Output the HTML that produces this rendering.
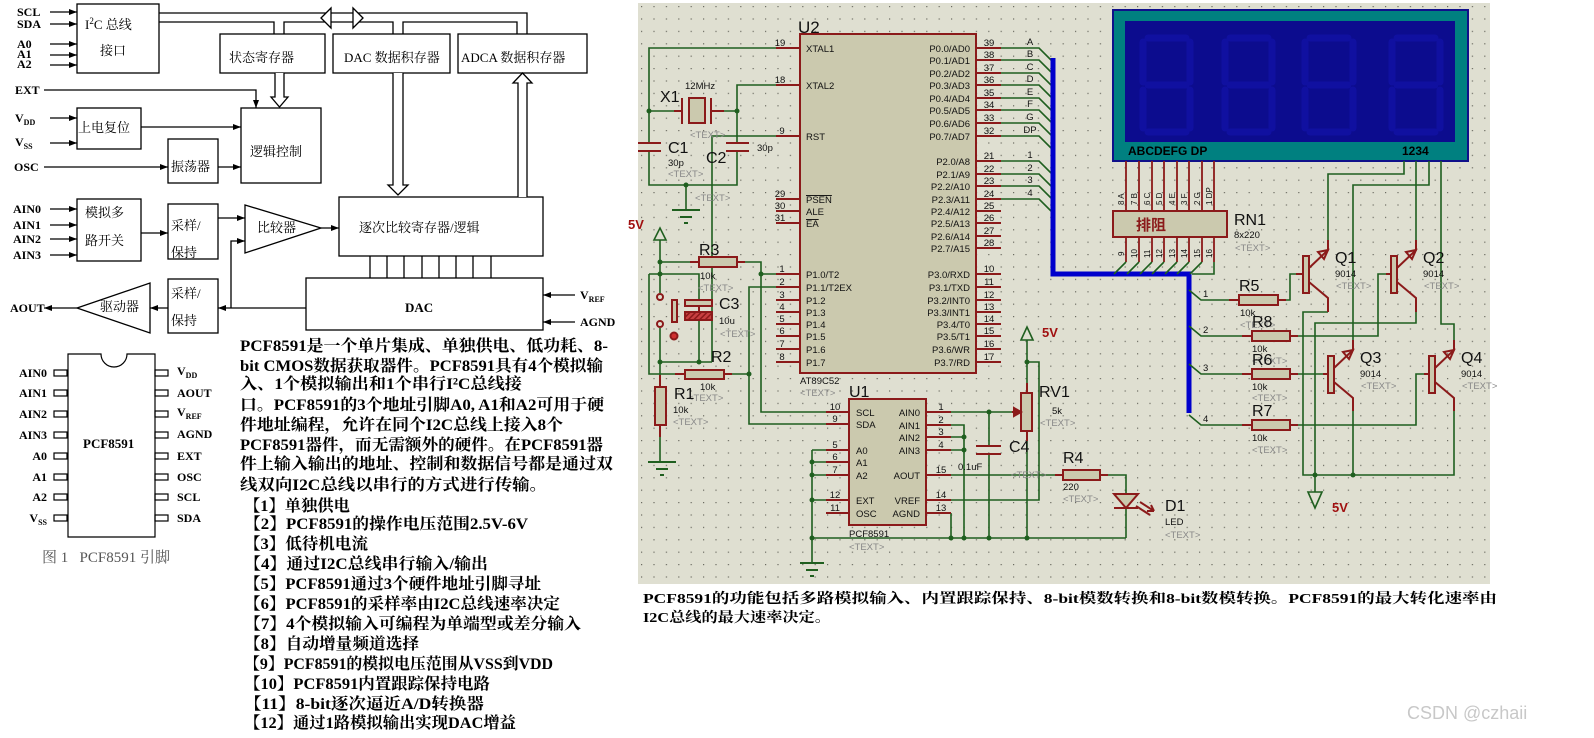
<!DOCTYPE html>
<html><head><meta charset="utf-8"><style>
html,body{margin:0;padding:0;background:#fff;}
svg{display:block;}
.sf{font-family:"Liberation Serif","Noto Serif CJK SC",serif;}
.bd{font-family:"Liberation Serif","Noto Serif CJK SC",serif;font-weight:bold;}
.ss{font-family:"Liberation Sans","Noto Sans CJK SC",sans-serif;}
</style></head><body>
<svg width="1594" height="738" viewBox="0 0 1594 738" xmlns="http://www.w3.org/2000/svg">
<defs>
<marker id="ah" markerWidth="8" markerHeight="6" refX="8" refY="3" orient="auto" markerUnits="userSpaceOnUse"><path d="M0,0 L8,3 L0,6 z" fill="#000"/></marker>
<pattern id="grid" x="641" y="6" width="12.4" height="12.4" patternUnits="userSpaceOnUse"><rect width="1.2" height="1.2" fill="#6a6a60"/></pattern>
<pattern id="hatch" width="4" height="4" patternUnits="userSpaceOnUse" patternTransform="rotate(45)"><rect width="4" height="4" fill="#c84040"/><rect width="1.5" height="4" fill="#8b1a1a"/></pattern>
</defs>

<!-- ================= LEFT BLOCK DIAGRAM ================= -->
<g stroke="#000" stroke-width="1.3" fill="none">
<rect x="77" y="4" width="82" height="69"/>
<rect x="220" y="34" width="105" height="39"/>
<rect x="333" y="34" width="117" height="39"/>
<rect x="458" y="34" width="129" height="39"/>
<rect x="241" y="108" width="80" height="75"/>
<rect x="77" y="108" width="64" height="41"/>
<rect x="168" y="139" width="50" height="44"/>
<rect x="77" y="199" width="64" height="62"/>
<rect x="168" y="204" width="50" height="55"/>
<rect x="339" y="197" width="204" height="59"/>
<rect x="306" y="278" width="237" height="52"/>
<rect x="168" y="279" width="50" height="54"/>
<polygon points="245,205 245,253 321,228"/>
<polygon points="150,283 150,333 77,308"/>
<polyline points="159,13 527,13 527,34"/>
<polyline points="159,22 274,22 274,34"/>
<polyline points="284,34 284,22 393,22 393,34"/>
<polyline points="403,34 403,22 517,22 517,34"/>
<polygon points="321,18 331,8 331,28" fill="#fff"/>
<polygon points="363,18 353,8 353,28" fill="#fff"/>
<polyline points="275,73 275,97 271,97 279.5,107 288,97 284,97 284,73" fill="#fff"/>
<polyline points="393,73 393,185 388,185 398,195 408,185 403,185 403,73" fill="#fff"/>
<polyline points="518,197 518,83 513,83 522.5,73 532,83 527,83 527,197" fill="#fff"/>
<path d="M370,256V278M387,256V278M404,256V278M422,256V278M439,256V278M456,256V278M473,256V278M491,256V278"/>
<g marker-end="url(#ah)">
<path d="M50,12H77"/><path d="M50,24H77"/><path d="M50,44H77"/><path d="M50,55H77"/><path d="M50,65H77"/>
<path d="M44,90H256V108"/>
<path d="M50,118H77"/><path d="M50,143H77"/>
<path d="M141,127H241"/>
<path d="M44,167H168"/><path d="M218,167H241"/>
<path d="M50,209H77"/><path d="M50,225H77"/><path d="M50,239H77"/><path d="M50,255H77"/>
<path d="M141,233H168"/>
<path d="M218,218H245"/>
<path d="M321,228H339"/>
<path d="M306,308H218"/>
<path d="M231,308V241H245"/>
<path d="M168,308H150"/>
<path d="M77,308H44"/>
<path d="M575,295H543"/><path d="M575,322H543"/>
</g>
</g>
<g class="bd" font-size="12" fill="#000">
<text x="17" y="16">SCL</text><text x="17" y="28">SDA</text>
<text x="17" y="48">A0</text><text x="17" y="58">A1</text><text x="17" y="68">A2</text>
<text x="15" y="94">EXT</text>
<text x="15" y="122">V<tspan font-size="8" dy="3">DD</tspan></text>
<text x="15" y="146">V<tspan font-size="8" dy="3">SS</tspan></text>
<text x="14" y="171">OSC</text>
<text x="13" y="213">AIN0</text><text x="13" y="229">AIN1</text><text x="13" y="243">AIN2</text><text x="13" y="259">AIN3</text>
<text x="10" y="312">AOUT</text>
<text x="580" y="299">V<tspan font-size="8" dy="3">REF</tspan></text>
<text x="580" y="326">AGND</text>
<text x="405" y="312" font-size="13">DAC</text>
</g>
<g class="sf" font-size="13" fill="#000">
<text x="85" y="29">I<tspan font-size="9" dy="-5">2</tspan><tspan dy="5">C 总线</tspan></text>
<text x="100" y="55">接口</text>
<text x="229" y="62">状态寄存器</text>
<text x="344" y="62">DAC 数据积存器</text>
<text x="461" y="62">ADCA 数据积存器</text>
<text x="250" y="156">逻辑控制</text>
<text x="78" y="132">上电复位</text>
<text x="171" y="171">振荡器</text>
<text x="85" y="217">模拟多</text><text x="85" y="245">路开关</text>
<text x="171" y="230">采样/</text><text x="171" y="257">保持</text>
<text x="257" y="232">比较器</text>
<text x="359" y="232">逐次比较寄存器/逻辑</text>
<text x="171" y="298">采样/</text><text x="171" y="325">保持</text>
<text x="100" y="311">驱动器</text>
</g>

<!-- ================= PIN DIAGRAM ================= -->
<g stroke="#000" stroke-width="1.2" fill="#fff">
<path d="M68,354H101A13,13 0 0 0 127,354H155V537H68Z"/>
<g fill="none">
<rect x="54" y="370" width="13" height="6"/><rect x="54" y="390" width="13" height="6"/><rect x="54" y="411" width="13" height="6"/><rect x="54" y="432" width="13" height="6"/>
<rect x="54" y="453" width="13" height="6"/><rect x="54" y="474" width="13" height="6"/><rect x="54" y="494" width="13" height="6"/><rect x="54" y="515" width="13" height="6"/>
<rect x="155" y="370" width="13" height="6"/><rect x="155" y="390" width="13" height="6"/><rect x="155" y="411" width="13" height="6"/><rect x="155" y="432" width="13" height="6"/>
<rect x="155" y="453" width="13" height="6"/><rect x="155" y="474" width="13" height="6"/><rect x="155" y="494" width="13" height="6"/><rect x="155" y="515" width="13" height="6"/>
</g></g>
<g class="bd" font-size="12" fill="#000">
<g text-anchor="end">
<text x="47" y="377">AIN0</text><text x="47" y="397">AIN1</text><text x="47" y="418">AIN2</text><text x="47" y="439">AIN3</text>
<text x="47" y="460">A0</text><text x="47" y="481">A1</text><text x="47" y="501">A2</text><text x="47" y="522">V<tspan font-size="8" dy="3">SS</tspan></text>
</g>
<text x="177" y="375">V<tspan font-size="8" dy="3">DD</tspan></text><text x="177" y="397">AOUT</text><text x="177" y="416">V<tspan font-size="8" dy="3">REF</tspan></text>
<text x="177" y="438">AGND</text><text x="177" y="460">EXT</text><text x="177" y="481">OSC</text><text x="177" y="501">SCL</text><text x="177" y="522">SDA</text>
<text x="83" y="448" font-size="13">PCF8591</text>
</g>
<text class="sf" x="42" y="562" font-size="15" fill="#555">图 1&#160;&#160; PCF8591 引脚</text>

<!-- ================= PARAGRAPH ================= -->
<g class="bd" font-size="16" fill="#000">
<text x="240" y="351" textLength="368" lengthAdjust="spacingAndGlyphs">PCF8591是一个单片集成、单独供电、低功耗、8-</text>
<text x="240" y="371" textLength="363" lengthAdjust="spacingAndGlyphs">bit CMOS数据获取器件。PCF8591具有4个模拟输</text>
<text x="240" y="389" textLength="282" lengthAdjust="spacingAndGlyphs">入、1个模拟输出和1个串行I²C总线接</text>
<text x="240" y="410" textLength="364" lengthAdjust="spacingAndGlyphs">口。PCF8591的3个地址引脚A0, A1和A2可用于硬</text>
<text x="240" y="430" textLength="323" lengthAdjust="spacingAndGlyphs">件地址编程，允许在同个I2C总线上接入8个</text>
<text x="240" y="450" textLength="363" lengthAdjust="spacingAndGlyphs">PCF8591器件，而无需额外的硬件。在PCF8591器</text>
<text x="240" y="469" textLength="373" lengthAdjust="spacingAndGlyphs">件上输入输出的地址、控制和数据信号都是通过双</text>
<text x="240" y="490" textLength="307" lengthAdjust="spacingAndGlyphs">线双向I2C总线以串行的方式进行传输。</text>
<text x="244" y="511" textLength="106" lengthAdjust="spacingAndGlyphs">【1】单独供电</text>
<text x="244" y="529" textLength="284" lengthAdjust="spacingAndGlyphs">【2】PCF8591的操作电压范围2.5V-6V</text>
<text x="244" y="549" textLength="124" lengthAdjust="spacingAndGlyphs">【3】低待机电流</text>
<text x="244" y="569" textLength="244" lengthAdjust="spacingAndGlyphs">【4】通过I2C总线串行输入/输出</text>
<text x="244" y="589" textLength="297" lengthAdjust="spacingAndGlyphs">【5】PCF8591通过3个硬件地址引脚寻址</text>
<text x="244" y="609" textLength="316" lengthAdjust="spacingAndGlyphs">【6】PCF8591的采样率由I2C总线速率决定</text>
<text x="244" y="629" textLength="337" lengthAdjust="spacingAndGlyphs">【7】4个模拟输入可编程为单端型或差分输入</text>
<text x="244" y="649" textLength="175" lengthAdjust="spacingAndGlyphs">【8】自动增量频道选择</text>
<text x="244" y="669" textLength="309" lengthAdjust="spacingAndGlyphs">【9】PCF8591的模拟电压范围从VSS到VDD</text>
<text x="244" y="689" textLength="246" lengthAdjust="spacingAndGlyphs">【10】PCF8591内置跟踪保持电路</text>
<text x="244" y="709" textLength="240" lengthAdjust="spacingAndGlyphs">【11】8-bit逐次逼近A/D转换器</text>
<text x="244" y="728" textLength="272" lengthAdjust="spacingAndGlyphs">【12】通过1路模拟输出实现DAC增益</text>
</g>

<!-- ================= SCHEMATIC ================= -->
<rect x="638" y="3" width="852" height="581" fill="#dfdfd1"/>
<rect x="638" y="3" width="852" height="581" fill="url(#grid)"/>

<rect x="800" y="34" width="176" height="339" fill="#cbc9ae" stroke="#8b1a1a" stroke-width="2"/>
<g stroke="#8b1a1a" stroke-width="2">
<path d="M776,48H800M776,85H800M776,136H800M776,199H800M776,211H800M776,223H800"/>
<path d="M776,274H800M776,287H800M776,300H800M776,312H800M776,324H800M776,336H800M776,349H800M776,362H800"/>
<path d="M976,48H1001M976,60H1001M976,73H1001M976,85H1001M976,98H1001M976,110H1001M976,123H1001M976,136H1001"/>
<path d="M976,161H1001M976,174H1001M976,186H1001M976,199H1001M976,211H1001M976,223H1001M976,236H1001M976,248H1001"/>
<path d="M976,274H1001M976,287H1001M976,300H1001M976,312H1001M976,324H1001M976,336H1001M976,349H1001M976,362H1001"/>
</g>
<g class="ss" font-size="9.5" fill="#111">
<g text-anchor="middle">
<text x="780" y="46">19</text><text x="780" y="83">18</text><text x="782" y="134">9</text><text x="780" y="197">29</text><text x="780" y="209">30</text><text x="780" y="221">31</text>
<text x="782" y="272">1</text><text x="782" y="285">2</text><text x="782" y="298">3</text><text x="782" y="310">4</text><text x="782" y="322">5</text><text x="782" y="334">6</text><text x="782" y="347">7</text><text x="782" y="360">8</text>
<text x="989" y="46">39</text><text x="989" y="58">38</text><text x="989" y="71">37</text><text x="989" y="83">36</text><text x="989" y="96">35</text><text x="989" y="108">34</text><text x="989" y="121">33</text><text x="989" y="134">32</text>
<text x="989" y="159">21</text><text x="989" y="172">22</text><text x="989" y="184">23</text><text x="989" y="197">24</text><text x="989" y="209">25</text><text x="989" y="221">26</text><text x="989" y="234">27</text><text x="989" y="246">28</text>
<text x="989" y="272">10</text><text x="989" y="285">11</text><text x="989" y="298">12</text><text x="989" y="310">13</text><text x="989" y="322">14</text><text x="989" y="334">15</text><text x="989" y="347">16</text><text x="989" y="360">17</text>
</g>
<text x="806" y="52">XTAL1</text><text x="806" y="89">XTAL2</text><text x="806" y="140">RST</text>
<text x="806" y="203" text-decoration="overline">PSEN</text><text x="806" y="215">ALE</text><text x="806" y="227" text-decoration="overline">EA</text>
<text x="806" y="278">P1.0/T2</text><text x="806" y="291">P1.1/T2EX</text><text x="806" y="304">P1.2</text><text x="806" y="316">P1.3</text><text x="806" y="328">P1.4</text><text x="806" y="340">P1.5</text><text x="806" y="353">P1.6</text><text x="806" y="366">P1.7</text>
<g text-anchor="end">
<text x="970" y="52">P0.0/AD0</text><text x="970" y="64">P0.1/AD1</text><text x="970" y="77">P0.2/AD2</text><text x="970" y="89">P0.3/AD3</text><text x="970" y="102">P0.4/AD4</text><text x="970" y="114">P0.5/AD5</text><text x="970" y="127">P0.6/AD6</text><text x="970" y="140">P0.7/AD7</text>
<text x="970" y="165">P2.0/A8</text><text x="970" y="178">P2.1/A9</text><text x="970" y="190">P2.2/A10</text><text x="970" y="203">P2.3/A11</text><text x="970" y="215">P2.4/A12</text><text x="970" y="227">P2.5/A13</text><text x="970" y="240">P2.6/A14</text><text x="970" y="252">P2.7/A15</text>
<text x="970" y="278">P3.0/RXD</text><text x="970" y="291">P3.1/TXD</text><text x="970" y="304">P3.2/INT0</text><text x="970" y="316">P3.3/INT1</text><text x="970" y="328">P3.4/T0</text><text x="970" y="340">P3.5/T1</text><text x="970" y="353">P3.6/WR</text><text x="970" y="366">P3.7/RD</text>
</g>
<text x="800" y="384">AT89C52</text>
<text x="800" y="396" fill="#888">&lt;TEXT&gt;</text>
</g>
<text class="ss" x="798" y="33" font-size="17" fill="#111">U2</text>

<g stroke="#1f5f1f" stroke-width="1.6" fill="none">
<path d="M1001,48H1039L1051,60M1001,60H1039L1051,72M1001,73H1039L1051,85M1001,85H1039L1051,97M1001,98H1039L1051,110M1001,110H1039L1051,122M1001,123H1039L1051,135M1001,136H1039L1051,148"/>
<path d="M1001,161H1039L1051,173M1001,174H1039L1051,186M1001,186H1039L1051,198M1001,199H1039L1051,211"/>
</g>
<g class="ss" font-size="9.5" fill="#111" text-anchor="middle">
<text x="1030" y="45">A</text><text x="1030" y="57">B</text><text x="1030" y="70">C</text><text x="1030" y="82">D</text><text x="1030" y="95">E</text><text x="1030" y="107">F</text><text x="1030" y="120">G</text><text x="1030" y="133">DP</text>
<text x="1030" y="158">1</text><text x="1030" y="171">2</text><text x="1030" y="183">3</text><text x="1030" y="196">4</text>
</g>
<path d="M1053,58V274H1189V413" stroke="#0000cc" stroke-width="5" fill="none"/>

<g stroke="#1f5f1f" stroke-width="1.6" fill="none">
<path d="M776,48H649V143M649,151V185H737V151M737,143V85H776"/>
<path d="M649,111H674M724,111H737"/>
<path d="M686,185V210"/>
<path d="M776,136H712V362"/>
<path d="M660,240V293M660,328V375M660,437V462"/>
<path d="M660,262H690M745,262H761V412H826M761,274H776"/>
<path d="M649,274H699V300M699,320V362M649,274V374H675M732,374H749M776,287H749V424H826"/>
<path d="M660,362H712"/>
<path d="M812,450V563M812,450H826M812,462H826M812,475H826M812,500H826"/>
<path d="M812,538H1126"/>
<path d="M951,425H964V538M951,437H964M951,450H964M951,513V538"/>
<path d="M951,412H1012M989,412V446M989,454V538"/>
<path d="M1027,340V383M1027,441V538M1027,362H1039V500H951"/>
<path d="M951,475H1055M1108,475H1126V494M1126,508V538"/>
</g>
<g fill="#1f5f1f">
<circle cx="649" cy="111" r="2.5"/><circle cx="737" cy="111" r="2.5"/><circle cx="686" cy="185" r="2.5"/>
<circle cx="660" cy="262" r="2.5"/><circle cx="660" cy="274" r="2.5"/><circle cx="761" cy="274" r="2.5"/>
<circle cx="660" cy="362" r="2.5"/><circle cx="699" cy="362" r="2.5"/><circle cx="749" cy="374" r="2.5"/>
<circle cx="812" cy="462" r="2.5"/><circle cx="812" cy="475" r="2.5"/><circle cx="812" cy="500" r="2.5"/><circle cx="812" cy="538" r="2.5"/>
<circle cx="964" cy="437" r="2.5"/><circle cx="964" cy="450" r="2.5"/><circle cx="951" cy="538" r="2.5"/><circle cx="964" cy="538" r="2.5"/>
<circle cx="989" cy="412" r="2.5"/><circle cx="989" cy="538" r="2.5"/><circle cx="1027" cy="538" r="2.5"/><circle cx="1027" cy="362" r="2.5"/>
</g>
<g stroke="#1f5f1f" stroke-width="2">
<path d="M672,210H700M680,217H692M684,223H688"/>
<path d="M648,462H676M656,469H668M660,475H664"/>
<path d="M800,563H824M806,570H818M810,576H814"/>
</g>
<g stroke="#8b1a1a" stroke-width="2" fill="#cbc9ae">
<path d="M638,143H661M638,151H661M726,143H749M726,151H749" fill="none"/>
<path d="M674,111H682M682,98V124M711,98V124M711,111H724" fill="none"/>
<rect x="689" y="98" width="16" height="25"/>
<rect x="699" y="257" width="38" height="10"/><path d="M690,262H699M737,262H745" fill="none"/>
<rect x="685" y="370" width="39" height="9"/><path d="M675,374H685M724,374H732" fill="none"/>
<rect x="655" y="387" width="11" height="38"/><path d="M660,375V387M660,425V437" fill="none"/>
<rect x="685" y="300" width="27" height="6"/>
<rect x="685" y="312" width="27" height="8" fill="url(#hatch)"/>
<path d="M699,306V312" fill="none"/>
<rect x="672" y="300" width="5" height="22"/>
<circle cx="660" cy="297" r="3" fill="none"/><circle cx="660" cy="324" r="3" fill="none"/>
<circle cx="674" cy="336" r="3.5" fill="#d03030"/>
</g>
<path d="M654,240H666L660,228Z" fill="none" stroke="#1f5f1f" stroke-width="1.6"/>
<path d="M1021,340H1033L1027,327Z" fill="none" stroke="#1f5f1f" stroke-width="1.6"/>
<text class="ss" x="628" y="229" font-size="13" font-weight="bold" fill="#a01010">5V</text>
<text class="ss" x="1042" y="337" font-size="13" font-weight="bold" fill="#a01010">5V</text>

<rect x="849" y="399" width="77" height="126" fill="#cbc9ae" stroke="#8b1a1a" stroke-width="2"/>
<g stroke="#8b1a1a" stroke-width="2">
<path d="M826,412H849M826,424H849M826,450H849M826,462H849M826,475H849M826,500H849M826,513H849"/>
<path d="M926,412H951M926,425H951M926,437H951M926,450H951M926,475H951M926,500H951M926,513H951"/>
</g>
<g class="ss" font-size="9.5" fill="#111">
<g text-anchor="middle">
<text x="835" y="410">10</text><text x="835" y="422">9</text><text x="835" y="448">5</text><text x="835" y="460">6</text><text x="835" y="473">7</text><text x="835" y="498">12</text><text x="835" y="511">11</text>
<text x="941" y="410">1</text><text x="941" y="423">2</text><text x="941" y="435">3</text><text x="941" y="448">4</text><text x="941" y="473">15</text><text x="941" y="498">14</text><text x="941" y="511">13</text>
</g>
<text x="856" y="416">SCL</text><text x="856" y="428">SDA</text><text x="856" y="454">A0</text><text x="856" y="466">A1</text><text x="856" y="479">A2</text><text x="856" y="504">EXT</text><text x="856" y="517">OSC</text>
<g text-anchor="end">
<text x="920" y="416">AIN0</text><text x="920" y="429">AIN1</text><text x="920" y="441">AIN2</text><text x="920" y="454">AIN3</text><text x="920" y="479">AOUT</text><text x="920" y="504">VREF</text><text x="920" y="517">AGND</text>
</g>
<text x="849" y="537">PCF8591</text><text x="849" y="550" fill="#888">&lt;TEXT&gt;</text>
<text x="958" y="470">0.1uF</text>
<text x="1052" y="414">5k</text><text x="1040" y="426" fill="#888">&lt;TEXT&gt;</text>
<text x="1063" y="490">220</text><text x="1063" y="502" fill="#888">&lt;TEXT&gt;</text>
<text x="1011" y="478" fill="#888">&lt;TEXT&gt;</text>
<text x="668" y="166">30p</text><text x="668" y="177" fill="#888">&lt;TEXT&gt;</text>
<text x="757" y="151">30p</text><text x="695" y="201" fill="#888">&lt;TEXT&gt;</text><text x="690" y="138" fill="#888">&lt;TEXT&gt;</text>
<text x="685" y="89">12MHz</text>
<text x="700" y="279">10k</text><text x="698" y="291" fill="#888">&lt;TEXT&gt;</text>
<text x="719" y="324">10u</text><text x="720" y="337" fill="#888">&lt;TEXT&gt;</text>
<text x="700" y="390">10k</text><text x="688" y="401" fill="#888">&lt;TEXT&gt;</text>
<text x="673" y="413">10k</text><text x="673" y="425" fill="#888">&lt;TEXT&gt;</text>
</g>
<g class="ss" font-size="16" fill="#111">
<text x="849" y="397">U1</text>
<text x="660" y="102">X1</text>
<text x="668" y="153">C1</text><text x="706" y="163">C2</text>
<text x="699" y="255">R3</text><text x="719" y="309">C3</text><text x="711" y="362">R2</text><text x="674" y="399">R1</text>
<text x="1039" y="397">RV1</text><text x="1009" y="452">C4</text><text x="1063" y="463">R4</text>
<text x="1165" y="511">D1</text>
</g>
<g stroke="#8b1a1a" stroke-width="2" fill="#cbc9ae">
<path d="M976,446H1001M976,454H1001" fill="none"/>
<rect x="1021" y="393" width="11" height="38"/><path d="M1027,383V393M1027,431V441" fill="none"/>
<path d="M1012,412H1020" fill="none"/><path d="M1014,408L1021,412L1014,416Z" fill="#8b1a1a"/>
<rect x="1063" y="470" width="37" height="10"/><path d="M1055,475H1063M1100,475H1108" fill="none"/>
<path d="M1114,494H1138L1126,508Z"/><path d="M1114,508H1138" fill="none"/>
<path d="M1140,502L1154,511M1136,506L1150,515" fill="none"/>
<path d="M1154,511L1147,511M1154,511L1151,505" fill="none"/>
</g>
<g class="ss" font-size="9.5" fill="#111"><text x="1165" y="525">LED</text><text x="1165" y="538" fill="#888">&lt;TEXT&gt;</text></g>

<rect x="1113" y="10" width="355" height="151" fill="#008080" stroke="#10108a" stroke-width="2"/>
<rect x="1125" y="21" width="330" height="121" fill="#0c0c8e"/>
<g stroke="#1010a0" stroke-width="7" fill="none" stroke-linecap="round">
<path d="M1148,38H1186M1143,42V82M1190,42V82M1148,85H1186M1143,90V128M1190,90V128M1148,132H1186"/>
<path d="M1230,38H1268M1225,42V82M1272,42V82M1230,85H1268M1225,90V128M1272,90V128M1230,132H1268"/>
<path d="M1310,38H1348M1305,42V82M1353,42V82M1310,85H1348M1305,90V128M1353,90V128M1310,132H1348"/>
<path d="M1397,38H1435M1392,42V82M1440,42V82M1397,85H1435M1392,90V128M1440,90V128M1397,132H1435"/>
</g>
<text class="ss" x="1128" y="155" font-size="12" font-weight="bold" fill="#000">ABCDEFG DP</text>
<text class="ss" x="1402" y="155" font-size="12" font-weight="bold" fill="#000">1234</text>

<g stroke="#8b1a1a" stroke-width="1.8">
<path d="M1126,161V211M1139,161V211M1152,161V211M1164,161V211M1177,161V211M1189,161V211M1202,161V211M1214,161V211"/>
<path d="M1126,237V262M1139,237V262M1152,237V262M1164,237V262M1177,237V262M1189,237V262M1202,237V262M1214,237V262"/>
</g>
<rect x="1113" y="211" width="114" height="26" fill="#cbc9ae" stroke="#8b1a1a" stroke-width="2"/>
<text x="1136" y="230" font-size="15" font-weight="bold" fill="#8b1a1a" font-family="'Noto Sans CJK SC',sans-serif">排阻</text>
<g class="ss" font-size="8" fill="#111">
<g transform="translate(1124,205) rotate(-90)"><text>8 A</text></g>
<g transform="translate(1137,205) rotate(-90)"><text>7 B</text></g>
<g transform="translate(1150,205) rotate(-90)"><text>6 C</text></g>
<g transform="translate(1162,205) rotate(-90)"><text>5 D</text></g>
<g transform="translate(1175,205) rotate(-90)"><text>4 E</text></g>
<g transform="translate(1187,205) rotate(-90)"><text>3 F</text></g>
<g transform="translate(1200,205) rotate(-90)"><text>2 G</text></g>
<g transform="translate(1212,205) rotate(-90)"><text>1 DP</text></g>
<g transform="translate(1124,256) rotate(-90)"><text>9</text></g>
<g transform="translate(1137,258) rotate(-90)"><text>10</text></g>
<g transform="translate(1150,258) rotate(-90)"><text>11</text></g>
<g transform="translate(1162,258) rotate(-90)"><text>12</text></g>
<g transform="translate(1175,258) rotate(-90)"><text>13</text></g>
<g transform="translate(1187,258) rotate(-90)"><text>14</text></g>
<g transform="translate(1200,258) rotate(-90)"><text>15</text></g>
<g transform="translate(1212,258) rotate(-90)"><text>16</text></g>
</g>
<text class="ss" x="1234" y="225" font-size="16" fill="#111">RN1</text>
<g class="ss" font-size="9.5" fill="#111"><text x="1234" y="238">8x220</text><text x="1235" y="251" fill="#888">&lt;TEXT&gt;</text></g>

<g stroke="#1f5f1f" stroke-width="1.6" fill="none">
<path d="M1126,262L1114,274M1139,262L1127,274M1152,262L1140,274M1164,262L1152,274M1177,262L1165,274M1189,262L1177,274M1202,262L1190,274M1214,262V274H1192"/>
<path d="M1189,290L1201,300H1229M1189,326L1201,336H1242M1189,364L1201,374H1242M1189,415L1201,425H1242"/>
<path d="M1404,161V174H1328V240M1416,161V240M1429,161V185H1353V340M1441,161V324H1454V340"/>
<path d="M1286,300H1290V274H1296M1298,336H1378V274H1386M1298,374H1323M1298,425H1416V374H1424"/>
<path d="M1328,312H1303V475H1454V411M1416,312V323H1315V492M1353,411V475"/>
</g>
<g fill="#1f5f1f"><circle cx="1315" cy="475" r="2.5"/><circle cx="1353" cy="475" r="2.5"/></g>
<path d="M1308,492H1322L1315,508Z" fill="none" stroke="#1f5f1f" stroke-width="1.6"/>
<text class="ss" x="1332" y="512" font-size="13" font-weight="bold" fill="#a01010">5V</text>
<g stroke="#8b1a1a" stroke-width="2" fill="#cbc9ae">
<rect x="1239" y="295" width="39" height="10"/><path d="M1229,300H1239M1278,300H1286" fill="none"/>
<rect x="1252" y="331" width="38" height="10"/><path d="M1242,336H1252M1290,336H1298" fill="none"/>
<rect x="1252" y="369" width="38" height="10"/><path d="M1242,374H1252M1290,374H1298" fill="none"/>
<rect x="1252" y="420" width="38" height="10"/><path d="M1242,425H1252M1290,425H1298" fill="none"/>
<rect x="1303" y="256" width="6" height="37"/><path d="M1296,274H1303M1309,268L1328,250V240M1309,282L1328,298V312" fill="none"/><path d="M1318,252L1328,250L1324,259Z" fill="none"/>
<rect x="1391" y="256" width="6" height="37"/><path d="M1386,274H1391M1397,268L1416,250V240M1397,282L1416,298V312" fill="none"/><path d="M1406,252L1416,250L1412,259Z" fill="none"/>
<rect x="1328" y="356" width="6" height="37"/><path d="M1323,374H1328M1334,368L1353,350V340M1334,382L1353,398V411" fill="none"/><path d="M1343,352L1353,350L1349,359Z" fill="none"/>
<rect x="1429" y="356" width="6" height="37"/><path d="M1424,374H1429M1435,368L1454,350V340M1435,382L1454,398V411" fill="none"/><path d="M1444,352L1454,350L1450,359Z" fill="none"/>
</g>
<g class="ss" font-size="9.5" fill="#111">
<text x="1203" y="297">1</text><text x="1203" y="333">2</text><text x="1203" y="371">3</text><text x="1203" y="422">4</text>
<text x="1240" y="316">10k</text><text x="1240" y="328" fill="#888">&lt;TEXT&gt;</text>
<text x="1252" y="352">10k</text><text x="1252" y="364" fill="#888">&lt;TEXT&gt;</text>
<text x="1252" y="390">10k</text><text x="1252" y="401" fill="#888">&lt;TEXT&gt;</text>
<text x="1252" y="441">10k</text><text x="1252" y="453" fill="#888">&lt;TEXT&gt;</text>
<text x="1335" y="277">9014</text><text x="1336" y="289" fill="#888">&lt;TEXT&gt;</text>
<text x="1423" y="277">9014</text><text x="1424" y="289" fill="#888">&lt;TEXT&gt;</text>
<text x="1360" y="377">9014</text><text x="1361" y="389" fill="#888">&lt;TEXT&gt;</text>
<text x="1461" y="377">9014</text><text x="1462" y="389" fill="#888">&lt;TEXT&gt;</text>
</g>
<g class="ss" font-size="16" fill="#111">
<text x="1239" y="291">R5</text><text x="1252" y="327">R8</text><text x="1252" y="365">R6</text><text x="1252" y="416">R7</text>
<text x="1335" y="263">Q1</text><text x="1423" y="263">Q2</text><text x="1360" y="363">Q3</text><text x="1461" y="363">Q4</text>
</g>

<g class="bd" font-size="14" fill="#000">
<text x="643" y="603" textLength="854" lengthAdjust="spacingAndGlyphs">PCF8591的功能包括多路模拟输入、内置跟踪保持、8-bit模数转换和8-bit数模转换。PCF8591的最大转化速率由</text>
<text x="643" y="622" textLength="188" lengthAdjust="spacingAndGlyphs">I2C总线的最大速率决定。</text>
</g>
<text class="ss" x="1407" y="719" font-size="18" fill="#c8c8c8">CSDN @czhaii</text>
</svg>
</body></html>
